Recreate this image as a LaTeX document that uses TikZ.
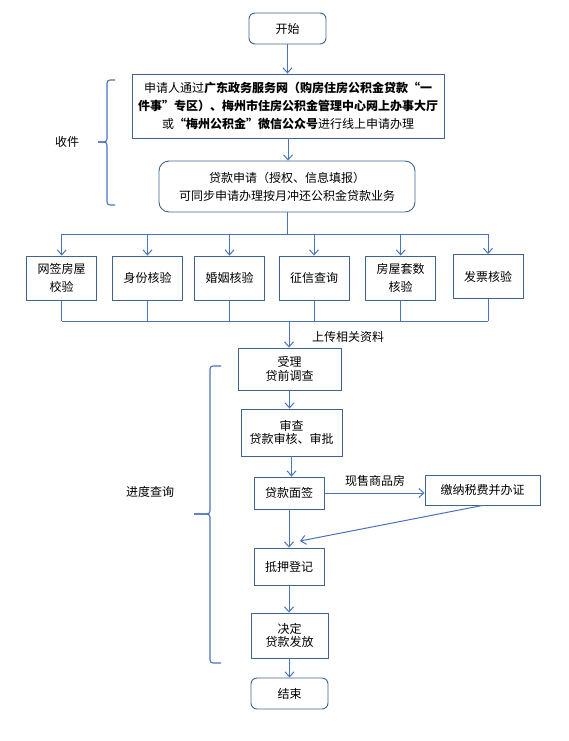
\documentclass[tikz,border=0pt]{standalone}
\usepackage{fontspec}
\setmainfont{Noto Sans CJK SC}
\usetikzlibrary{arrows.meta}
\definecolor{boxblue}{HTML}{41648F}
\definecolor{lineblue}{HTML}{4A72C0}
\begin{document}
\begin{tikzpicture}[x=1pt,y=-1pt,
  box/.style={draw=boxblue, line width=0.9pt, fill=white, align=center, inner sep=0pt,
    font=\fontsize{12}{18}\selectfont, text=black},
  rbox/.style={box, rounded corners=6pt},
  tight/.style={font=\fontsize{12}{13.5}\selectfont},
  arr/.style={draw=lineblue, line width=1pt, -{Straight Barb[length=5pt,width=9pt]}},
  ln/.style={draw=lineblue, line width=1pt},
  brc/.style={draw=lineblue, line width=1.1pt, rounded corners=3pt},
  lbl/.style={font=\fontsize{12}{14}\selectfont, inner sep=0pt, text=black}]
\useasboundingbox (0,0) rectangle (569,741);
\fill[white] (0,0) rectangle (569,741);

% top part
\node[rbox, minimum width=77pt, minimum height=31pt] (start) at (287.5,28.5) {开始};
\node[box, minimum width=312pt, minimum height=64pt] (apply) at (288,106)
  {申请人通过\textbf{广东政务服务网（购房住房公积金贷款“一}\\
   \textbf{件事”专区）、梅州市住房公积金管理中心网上办事大厅}\\
   或\textbf{“梅州公积金”微信公众号}进行线上申请办理};
\node[box, rounded corners=10pt, minimum width=256pt, minimum height=51pt] (loan) at (287,186.5)
  {贷款申请（授权、信息填报）\\可同步申请办理按月冲还公积金贷款业务};

% six checks
\node[box, minimum width=70pt, minimum height=44pt] (b1) at (61.7,278) {网签房屋\\校验};
\node[box, minimum width=70pt, minimum height=44pt] (b2) at (147.5,278) {身份核验};
\node[box, minimum width=70pt, minimum height=44pt] (b3) at (229.5,278) {婚姻核验};
\node[box, minimum width=70pt, minimum height=44pt] (b4) at (314,278) {征信查询};
\node[box, minimum width=70pt, minimum height=44pt] (b5) at (400.7,278) {房屋套数\\核验};
\node[box, minimum width=70pt, minimum height=44pt] (b6) at (488,276.5) {发票核验};

% lower chain
\node[box, tight, minimum width=103pt, minimum height=42pt] (accept) at (289.5,369) {受理\\贷前调查};
\node[box, tight, minimum width=101pt, minimum height=47pt] (review) at (291.5,432.5) {审查\\贷款审核、审批};
\node[box, minimum width=70pt, minimum height=32pt] (sign) at (289,493) {贷款面签};
\node[box, minimum width=115pt, minimum height=30pt] (pay) at (482.5,490) {缴纳税费并办证};
\node[box, minimum width=70pt, minimum height=37pt] (mort) at (289,566.5) {抵押登记};
\node[box, tight, minimum width=77pt, minimum height=45pt] (grant) at (289.5,635.5) {决定\\贷款发放};
\node[rbox, minimum width=77pt, minimum height=31pt] (end) at (289.5,693.5) {结束};

% labels
\node[lbl] (lshou) at (67,142) {收件};
\node[lbl] (ljindu) at (150,492) {进度查询};
\node[lbl] (lupload) at (348,337) {上传相关资料};
\node[lbl] (lxianshou) at (375,481) {现售商品房};

% connectors top
\draw[arr] (start.south) -- (start.south |- apply.north);
\draw[arr] (apply.south) -- (apply.south |- loan.north);
\coordinate (ttop) at (287,234);
\draw[ln] (loan.south) -- (ttop);
\draw[ln] (b1.north |- ttop) -- (b6.north |- ttop);
\foreach \i in {1,...,6} {\draw[arr] (b\i.north |- ttop) -- (b\i.north);}
\coordinate (bbot) at (289,321);
\foreach \i in {1,...,6} {\draw[ln] (b\i.south) -- (b\i.south |- bbot);}
\draw[ln] (b1.south |- bbot) -- (b6.south |- bbot);
\draw[arr] (bbot) -- (bbot |- accept.north);

% chain
\draw[arr] (accept.south) -- (accept.south |- review.north);
\draw[arr] (review.south) -- (review.south |- sign.north);
\draw[arr] (sign.east) -- (sign.east -| pay.west);
\coordinate (merge) at (300,541);
\draw[arr] (pay.south) -- (merge);
\draw[arr] (sign.south) -- (sign.south |- mort.north);
\draw[arr] (mort.south) -- (mort.south |- grant.north);
\draw[arr] (grant.south) -- (grant.south |- end.north);

% braces
\draw[brc] (115,80) -- (107,80) -- (107,142) -- (98,142);
\draw[brc] (98,142) -- (107,142) -- (107,205) -- (115,205);
\draw[brc] (221,366) -- (210,366) -- (210,514) -- (194,514);
\draw[brc] (194,514) -- (210,514) -- (210,663) -- (221,663);
\end{tikzpicture}
\end{document}
